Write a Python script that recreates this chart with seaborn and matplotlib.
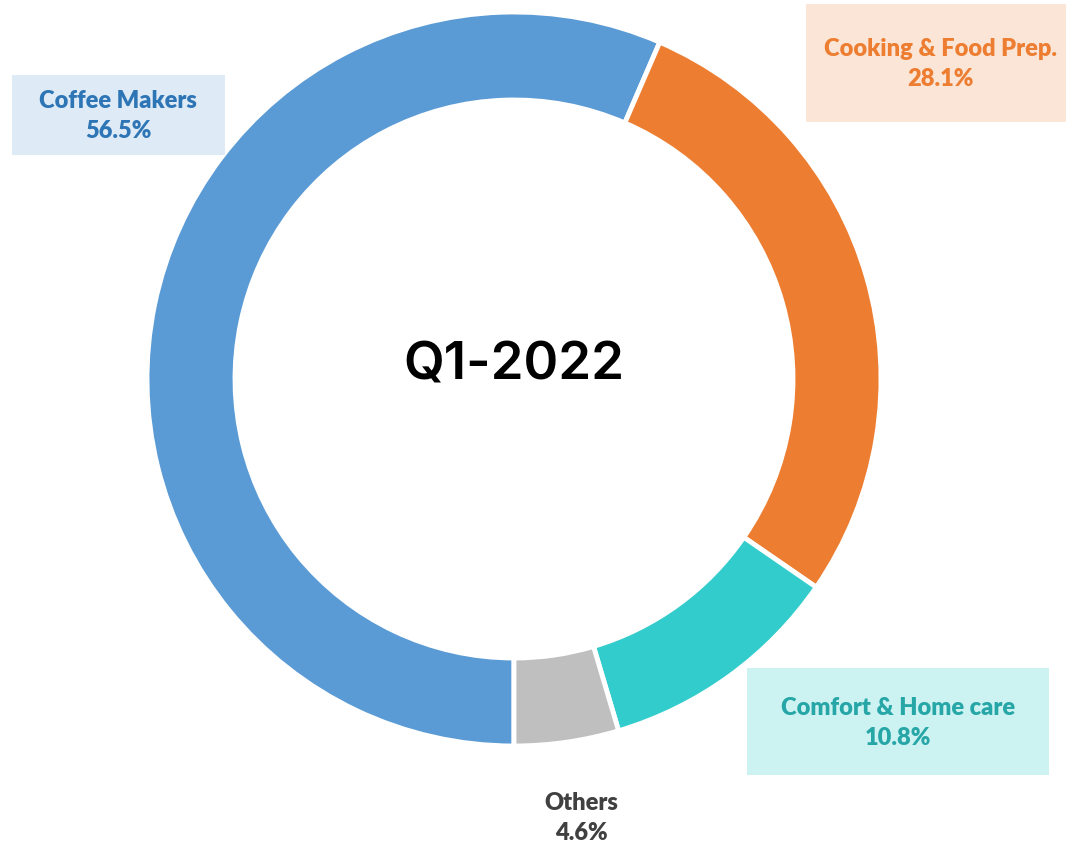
import matplotlib
matplotlib.use("Agg")
import matplotlib.pyplot as plt
import seaborn as sns
from matplotlib.patches import Rectangle

# data
categories = ['Coffee Makers', 'Cooking & Food Prep.', 'Comfort & Home care', 'Others']
shares = [56.5, 28.1, 10.8, 4.6]
center_label = 'Q1-2022'

wedge_colors = ['#5B9BD5', '#ED7D31', '#33CCCC', '#BFBFBF']
text_colors = ['#2E75B6', '#ED7D31', '#26A6A6', '#404040']
box_colors = ['#DEEBF7', '#FBE5D6', '#CCF2F2', None]

# label boxes in pixel coords (x0, y0 from top, w, h) and text centre
boxes = [(12, 75, 213, 80), (806, 4, 260, 118), (747, 668, 302, 107), None]
text_pos = [(118, 116), (940, 64), (898, 723), (581, 818)]

sns.set_theme(style='white')
plt.rcParams['font.family'] = ['Lato', 'DejaVu Sans']

W, H = 1066, 846
fig = plt.figure(figsize=(W / 100, H / 100), dpi=100)
ax = fig.add_axes([0, 0, 1, 1])

ax.pie(shares, colors=sns.color_palette(wedge_colors), startangle=-90,
       counterclock=False, radius=367, center=(514, H - 379),
       wedgeprops=dict(width=88, edgecolor='white', linewidth=3.5))

ax.set_xlim(0, W)
ax.set_ylim(0, H)
ax.set_aspect('auto')
ax.axis('off')

for i, cat in enumerate(categories):
    if boxes[i] is not None:
        x0, y0, w, h = boxes[i]
        ax.add_patch(Rectangle((x0, H - y0 - h), w, h, facecolor=box_colors[i],
                               edgecolor='none', zorder=1))
    tx, ty = text_pos[i]
    ax.text(tx, H - ty, f'{cat}\n{shares[i]}%', ha='center', va='center',
            fontsize=17, fontweight='heavy', color=text_colors[i],
            linespacing=1.45, zorder=2)

ax.text(514, H - 366, center_label, ha='center', va='center', fontsize=38,
        fontweight='semibold', family=['Inter', 'DejaVu Sans'], color='black')

fig.savefig('out.png', dpi=100)
